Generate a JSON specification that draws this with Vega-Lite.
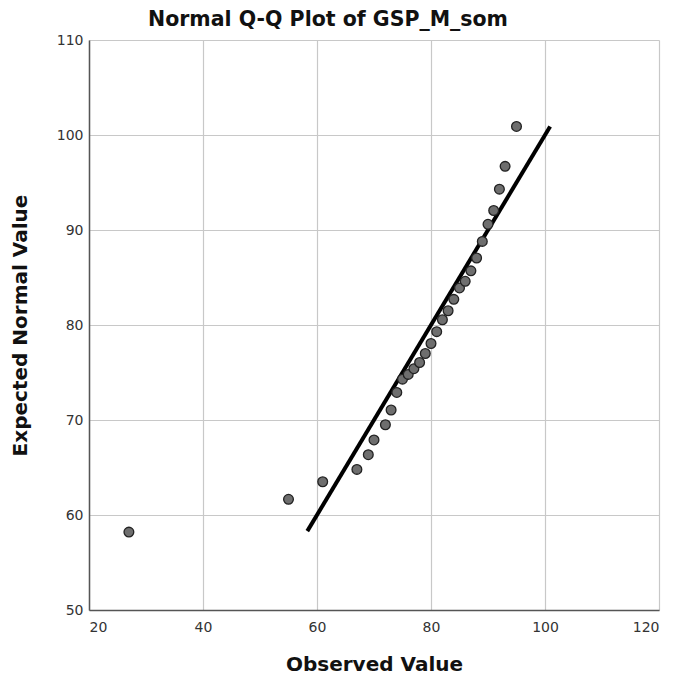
{
  "$schema": "https://vega.github.io/schema/vega-lite/v6.json",
  "width": 570,
  "height": 570,
  "autosize": "none",
  "padding": {"left": 89, "top": 40, "right": 20, "bottom": 70},
  "background": "white",
  "title": {"text": "Normal Q-Q Plot of GSP_M_som", "font": "DejaVu Sans", "fontSize": 20.5, "fontWeight": "bold", "color": "#111", "anchor": "middle", "offset": 3, "dx": -46},
  "config": {
    "view": {"stroke": null},
    "axis": {"labelFont": "DejaVu Sans", "titleFont": "DejaVu Sans", "labelFontSize": 14, "labelColor": "#333", "titleFontSize": 20, "titleFontWeight": "bold", "titleColor": "#111", "gridColor": "#c8c8c8", "gridWidth": 1.2, "domainColor": "#555", "domainWidth": 1.5, "ticks": false, "gridOpacity": 1}
  },
  "datasets": {
    "pts": [
      {"obs": 27, "exp": 58.2},
      {"obs": 55, "exp": 61.65},
      {"obs": 61, "exp": 63.5},
      {"obs": 67, "exp": 64.8},
      {"obs": 69, "exp": 66.35},
      {"obs": 70, "exp": 67.9},
      {"obs": 72, "exp": 69.5},
      {"obs": 73, "exp": 71.05},
      {"obs": 74, "exp": 72.9},
      {"obs": 75, "exp": 74.3},
      {"obs": 76, "exp": 74.8},
      {"obs": 77, "exp": 75.4},
      {"obs": 78, "exp": 76.05},
      {"obs": 79, "exp": 77.0},
      {"obs": 80, "exp": 78.05},
      {"obs": 81, "exp": 79.3},
      {"obs": 82, "exp": 80.55},
      {"obs": 83, "exp": 81.5},
      {"obs": 84, "exp": 82.7},
      {"obs": 85, "exp": 83.9},
      {"obs": 86, "exp": 84.6},
      {"obs": 87, "exp": 85.7},
      {"obs": 88, "exp": 87.05},
      {"obs": 89, "exp": 88.8},
      {"obs": 90, "exp": 90.6},
      {"obs": 91, "exp": 92.05},
      {"obs": 92, "exp": 94.3},
      {"obs": 93, "exp": 96.7},
      {"obs": 95, "exp": 100.9}
    ],
    "line": [
      {"obs": 58.3, "exp": 58.3},
      {"obs": 100.9, "exp": 100.9}
    ]
  },
  "layer": [
    {
      "data": {"name": "line"},
      "mark": {"type": "line", "color": "#000", "strokeWidth": 4, "strokeCap": "butt"},
      "encoding": {
        "x": {"field": "obs", "type": "quantitative", "scale": {"domain": [20, 120], "nice": false}, "axis": {"title": "Observed Value", "values": [20, 40, 60, 80, 100, 120], "titlePadding": 20, "labelPadding": 10}},
        "y": {"field": "exp", "type": "quantitative", "scale": {"domain": [50, 110], "nice": false}, "axis": {"title": "Expected Normal Value", "values": [50, 60, 70, 80, 90, 100, 110], "titlePadding": 26, "labelPadding": 6}}
      }
    },
    {
      "data": {"name": "pts"},
      "mark": {"type": "point", "filled": true, "fill": "#6e6e6e", "stroke": "#222", "strokeWidth": 1.3, "size": 95, "opacity": 1},
      "encoding": {
        "x": {"field": "obs", "type": "quantitative"},
        "y": {"field": "exp", "type": "quantitative"}
      }
    }
  ]
}
